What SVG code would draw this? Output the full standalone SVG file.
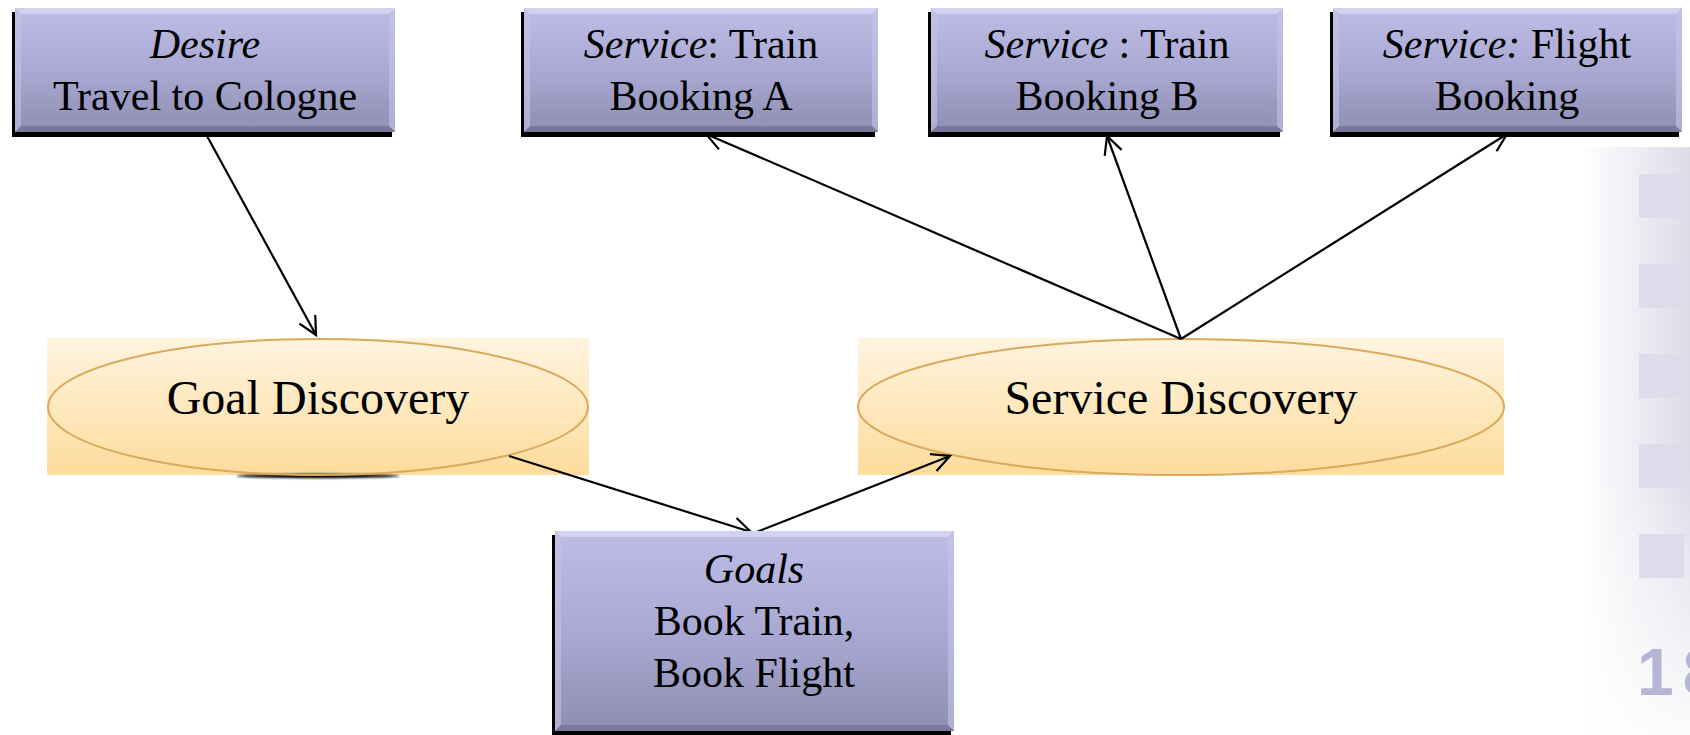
<svg xmlns="http://www.w3.org/2000/svg" width="1690" height="735" viewBox="0 0 1690 735">
<style>
.t{font-family:"Liberation Serif","Times New Roman",serif;font-size:42px;fill:#000;text-anchor:middle}
.e{font-family:"Liberation Serif","Times New Roman",serif;font-size:48px;fill:#000;text-anchor:middle}
.i{font-style:italic}
.box{fill:url(#boxg)}
.sh{fill:#000}
.bt{fill:#d6d6f2;opacity:0.8}
.bb{fill:#6f6f92;opacity:0.7}
.bs{fill:#c4c4e8;opacity:0.6}
.erect{fill:url(#ellg)}
.ell{fill:none;stroke:#d9a95e;stroke-width:2}
.con{stroke:#000;stroke-width:2.2;fill:none;marker-end:url(#arr)}
.sq{fill:#dcdcea}
</style>
<defs>
<linearGradient id="boxg" x1="0" y1="0" x2="0" y2="1">
<stop offset="0" stop-color="#bdbde6"/>
<stop offset="0.5" stop-color="#a9a9d3"/>
<stop offset="1" stop-color="#8e8eb2"/>
</linearGradient>
<linearGradient id="ellg" x1="0" y1="0" x2="0" y2="1">
<stop offset="0" stop-color="#fff4e0"/>
<stop offset="1" stop-color="#fddc9c"/>
</linearGradient>
<linearGradient id="panh" x1="0" y1="0" x2="1" y2="0">
<stop offset="0" stop-color="#ffffff"/>
<stop offset="1" stop-color="#dcdce9"/>
</linearGradient>
<linearGradient id="panv" x1="0" y1="0" x2="0" y2="1">
<stop offset="0" stop-color="#ffffff" stop-opacity="0"/>
<stop offset="0.55" stop-color="#ffffff" stop-opacity="0"/>
<stop offset="1" stop-color="#ffffff" stop-opacity="0.9"/>
</linearGradient>
<filter id="blur" x="-20%" y="-200%" width="140%" height="500%">
<feGaussianBlur stdDeviation="1.2"/>
</filter>
<marker id="arr" markerUnits="userSpaceOnUse" markerWidth="24" markerHeight="24" refX="19" refY="10" orient="auto">
<path d="M1,1 L19,10 L1,19" fill="none" stroke="#000" stroke-width="2.2"/>
</marker>
</defs>

<rect width="1690" height="735" fill="#fff"/>

<g id="side-panel">
<rect x="1581" y="147" width="109" height="588" fill="url(#panh)"/>
<rect x="1581" y="147" width="109" height="588" fill="url(#panv)"/>
<rect class="sq" x="1639" y="174" width="45" height="44"/>
<rect class="sq" x="1639" y="264" width="45" height="44"/>
<rect class="sq" x="1639" y="354" width="45" height="44"/>
<rect class="sq" x="1639" y="444" width="45" height="44"/>
<rect class="sq" x="1639" y="534" width="45" height="44"/>
<text x="1637" y="695" font-family="'Liberation Sans',Arial,sans-serif" font-weight="bold" font-size="66" letter-spacing="9" fill="#b5b5d6">18</text>
</g>

<g id="goal-discovery">
<rect class="erect" x="47" y="338" width="542" height="137"/>
<ellipse cx="318" cy="476" rx="82" ry="2.2" fill="#000" filter="url(#blur)"/>
<ellipse class="ell" cx="318" cy="407" rx="270" ry="68"/>
<text class="e" x="318" y="414">Goal Discovery</text>
</g>

<g id="service-discovery">
<rect class="erect" x="858" y="338" width="646" height="137"/>
<ellipse class="ell" cx="1181" cy="407" rx="323" ry="68"/>
<text class="e" x="1181" y="414">Service Discovery</text>
</g>

<g id="connectors">
<line class="con" x1="207" y1="136" x2="316" y2="335"/>
<line class="con" x1="509" y1="456" x2="751" y2="532"/>
<line class="con" x1="754" y1="533" x2="950" y2="456"/>
<line class="con" x1="1181" y1="339" x2="706" y2="134"/>
<line class="con" x1="1181" y1="339" x2="1107" y2="136"/>
<line class="con" x1="1181" y1="339" x2="1507" y2="134"/>
</g>

<g id="desire">
<rect class="sh" x="12" y="12" width="380" height="125"/>
<rect class="box" x="15" y="8" width="380" height="124"/>
<polygon class="bt" points="15,8 395,8 389,14 21,14"/>
<polygon class="bs" points="15,8 21,14 21,126 15,132"/>
<polygon class="bs" points="395,8 389,14 389,126 395,132"/>
<polygon class="bb" points="15,132 21,126 389,126 395,132"/>
<text class="t i" x="205" y="58">Desire</text>
<text class="t" x="205" y="110">Travel to Cologne</text>
</g>

<g id="train-a">
<rect class="sh" x="521" y="12" width="354" height="125"/>
<rect class="box" x="524" y="8" width="354" height="124"/>
<polygon class="bt" points="524,8 878,8 872,14 530,14"/>
<polygon class="bs" points="524,8 530,14 530,126 524,132"/>
<polygon class="bs" points="878,8 872,14 872,126 878,132"/>
<polygon class="bb" points="524,132 530,126 872,126 878,132"/>
<text class="t" x="701" y="58"><tspan class="i">Service</tspan>: Train</text>
<text class="t" x="701" y="110">Booking A</text>
</g>

<g id="train-b">
<rect class="sh" x="928" y="12" width="352" height="125"/>
<rect class="box" x="931" y="8" width="352" height="124"/>
<polygon class="bt" points="931,8 1283,8 1277,14 937,14"/>
<polygon class="bs" points="931,8 937,14 937,126 931,132"/>
<polygon class="bs" points="1283,8 1277,14 1277,126 1283,132"/>
<polygon class="bb" points="931,132 937,126 1277,126 1283,132"/>
<text class="t" x="1107" y="58"><tspan class="i">Service</tspan> : Train</text>
<text class="t" x="1107" y="110">Booking B</text>
</g>

<g id="flight">
<rect class="sh" x="1330" y="12" width="349" height="125"/>
<rect class="box" x="1333" y="8" width="349" height="124"/>
<polygon class="bt" points="1333,8 1682,8 1676,14 1339,14"/>
<polygon class="bs" points="1333,8 1339,14 1339,126 1333,132"/>
<polygon class="bs" points="1682,8 1676,14 1676,126 1682,132"/>
<polygon class="bb" points="1333,132 1339,126 1676,126 1682,132"/>
<text class="t" x="1507" y="58"><tspan class="i">Service:</tspan> Flight</text>
<text class="t" x="1507" y="110">Booking</text>
</g>

<g id="goals">
<rect class="sh" x="552" y="535" width="399" height="200"/>
<rect class="box" x="555" y="531" width="399" height="200"/>
<polygon class="bt" points="555,531 954,531 948,537 561,537"/>
<polygon class="bs" points="555,531 561,537 561,725 555,731"/>
<polygon class="bs" points="954,531 948,537 948,725 954,731"/>
<polygon class="bb" points="555,731 561,725 948,725 954,731"/>
<text class="t i" x="754" y="583">Goals</text>
<text class="t" x="754" y="635">Book Train,</text>
<text class="t" x="754" y="687">Book Flight</text>
</g>
</svg>
